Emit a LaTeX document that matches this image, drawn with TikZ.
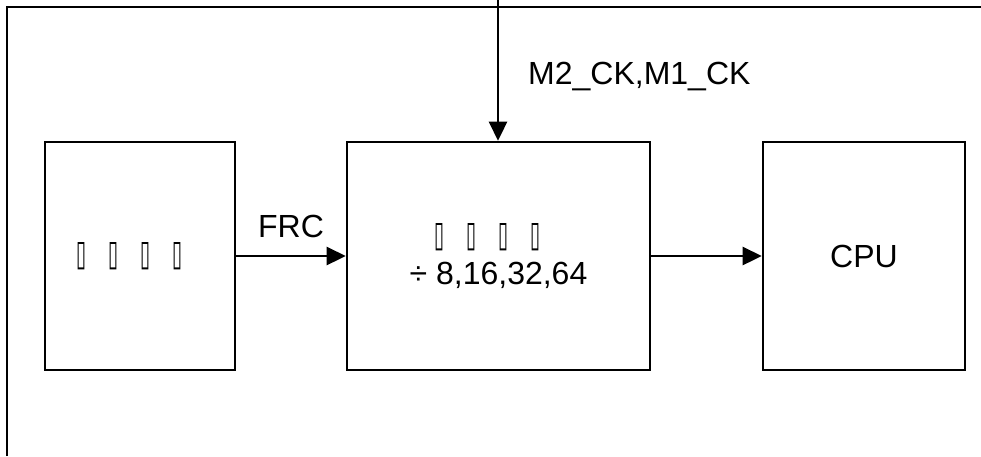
\documentclass[tikz,border=0pt]{standalone}
\usepackage{fontspec}
\usepackage{graphicx}
\setmainfont{Liberation Sans}
\newfontfamily\symfont{DejaVu Sans}
\usetikzlibrary{arrows.meta,positioning}
\tikzset{
  block/.style={draw, line width=2.6pt, minimum height=228pt, align=center, inner sep=0pt, font=\fontsize{32}{38}\selectfont},
  sig/.style={-{Triangle[length=19pt,width=18pt]}, line width=2.6pt},
  lbl/.style={font=\fontsize{32}{38}\selectfont, inner sep=0pt},
  frame/.style={line width=2.6pt},
}
\newcommand{\tofu}{\makebox[32pt][l]{\symfont\resizebox{10pt}{23pt}{▯}}}

\begin{document}
\begin{tikzpicture}[x=1pt,y=-1pt]
  \useasboundingbox (0,0) rectangle (981,456);
  \draw[frame] (7,456) -- (7,7) -- (981,7);
  % three blocks
  \node[block, minimum width=190pt] (osc) at (140,256) {\tofu\tofu\tofu\tofu};
  \node[block, minimum width=303pt] (div) at (498.5,256) {\tofu\tofu\tofu\tofu\\÷ 8,16,32,64};
  \node[block, minimum width=202pt] (cpu) at (864,256) {CPU};
  % signals
  \draw[sig] (osc) -- node[lbl, above=17pt] (frc) {FRC} (div);
  \draw[sig] (div) -- (cpu);
  \coordinate (clk) at (498,0);
  \draw[sig] (clk) -- (clk |- div.north);
  \node[lbl, anchor=west] (clklbl) at (528,77) {M2\_CK,M1\_CK};
\end{tikzpicture}
\end{document}
